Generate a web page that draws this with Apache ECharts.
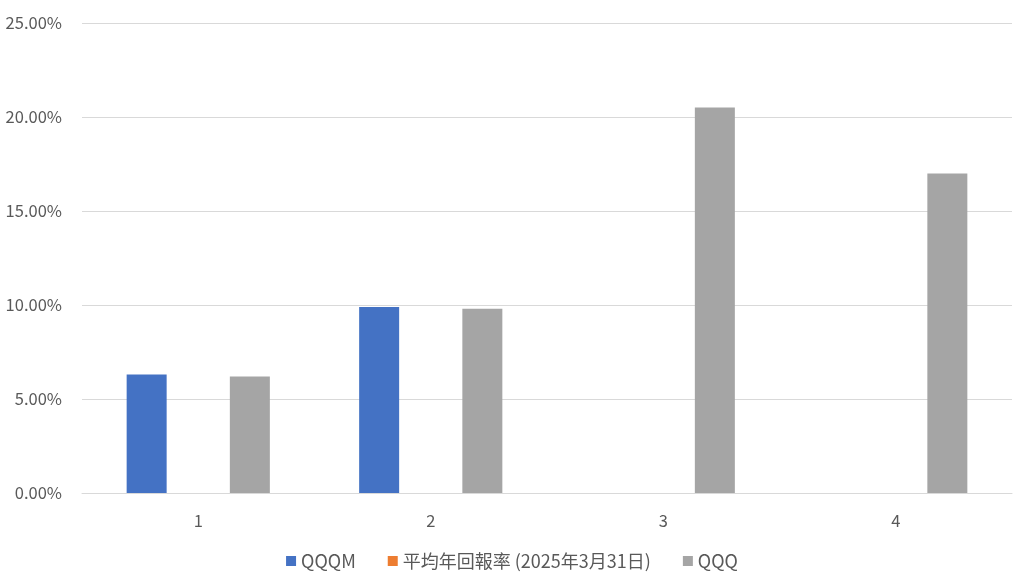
<!DOCTYPE html>
<html>
<head>
<meta charset="utf-8">
<script src="https://cdn.jsdelivr.net/npm/echarts@6/dist/echarts.min.js"></script>
<style>html,body{margin:0;padding:0;background:#fff}#c{width:1024px;height:578px}</style>
</head>
<body>
<div id="c"></div>
<script>
var categories = ['1', '2', '3', '4'];
var seriesNames = ['QQQM', '平均年回報率 (2025年3月31日)', 'QQQ'];
var qqqm = [6.3, 9.9, null, null];
var avgReturn = [null, null, null, null];
var qqq = [6.2, 9.8, 20.5, 17.0];
var yTicks = [0, 5, 10, 15, 20, 25];

var FONT = '"Noto Sans CJK TC", "Noto Sans", sans-serif';
var chart = echarts.init(document.getElementById('c'));
chart.setOption({
  animation: false,
  textStyle: { fontFamily: FONT },
  color: ['#4472C4', '#ED7D31', '#A5A5A5'],
  grid: { left: 82, right: 12, top: 23, bottom: 85, containLabel: false },
  legend: {
    bottom: 3,
    left: 'center',
    icon: 'rect',
    itemWidth: 10,
    itemHeight: 10,
    itemGap: 32,
    textStyle: { color: '#595959', fontSize: 18, fontFamily: FONT },
    data: seriesNames
  },
  xAxis: {
    type: 'category',
    data: categories,
    axisLine: { lineStyle: { color: '#D9D9D9', width: 1 } },
    axisTick: { show: false },
    axisLabel: { color: '#595959', fontSize: 16.5, margin: 19, fontFamily: FONT }
  },
  yAxis: {
    type: 'value',
    min: yTicks[0],
    max: yTicks[yTicks.length - 1],
    interval: 5,
    axisLine: { show: false },
    axisTick: { show: false },
    splitLine: { lineStyle: { color: '#D9D9D9', width: 1 } },
    axisLabel: {
      color: '#595959', fontSize: 16.5, margin: 20, fontFamily: FONT,
      formatter: function (v) { return v.toFixed(2) + '%'; }
    }
  },
  series: [
    { name: seriesNames[0], type: 'bar', data: qqqm, barWidth: 40, barGap: '29%' },
    { name: seriesNames[1], type: 'bar', data: avgReturn, barWidth: 40, barGap: '29%' },
    { name: seriesNames[2], type: 'bar', data: qqq, barWidth: 40, barGap: '29%' }
  ]
});
</script>
</body>
</html>
